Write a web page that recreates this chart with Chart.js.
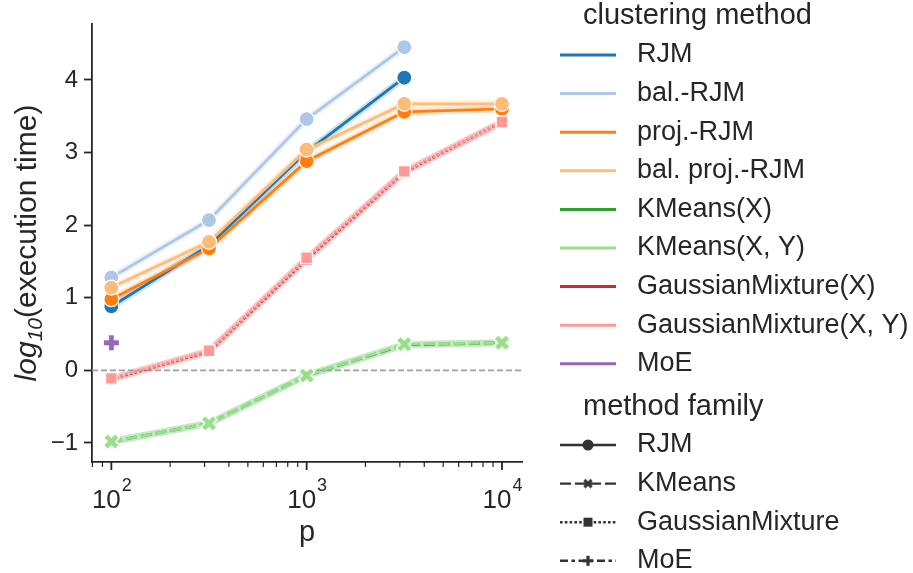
<!DOCTYPE html>
<html>
<head>
<meta charset="utf-8">
<title>execution time</title>
<script src="https://cdn.jsdelivr.net/npm/chart.js@4.4.1/dist/chart.umd.min.js"></script>
<style>
  html, body { margin: 0; padding: 0; background: #fff; }
  #wrap { width: 913px; height: 573px; position: relative; }
</style>
</head>
<body>
<div id="wrap"><canvas id="timeChart" width="913" height="573"></canvas></div>
<script>
// p values (log x axis)
var pValues = [100, 316.23, 1000, 3162.28, 10000];

var methodNames = ['RJM', 'bal.-RJM', 'proj.-RJM', 'bal. proj.-RJM', 'KMeans(X)', 'KMeans(X, Y)',
                   'GaussianMixture(X)', 'GaussianMixture(X, Y)', 'MoE'];
var methodColors = ['#1f77b4', '#aec7e8', '#ff7f0e', '#ffbb78', '#2ca02c', '#98df8a',
                    '#d62728', '#ff9896', '#9467bd'];
var methodFamily = ['RJM', 'RJM', 'RJM', 'RJM', 'KMeans', 'KMeans',
                    'GaussianMixture', 'GaussianMixture', 'MoE'];
var familyNames = ['RJM', 'KMeans', 'GaussianMixture', 'MoE'];

// log10(execution time), one value per p (null = not run)
var rjm        = [0.88, 1.72, 3.01, 4.03, null];
var balRjm     = [1.28, 2.07, 3.46, 4.45, null];
var projRjm    = [0.98, 1.68, 2.88, 3.56, 3.60];
var balProjRjm = [1.14, 1.77, 3.04, 3.67, 3.67];
var kmeansX    = [-0.98, -0.73, -0.07, 0.35, 0.38];
var kmeansXY   = [-0.98, -0.73, -0.07, 0.36, 0.38];
var gmX        = [-0.12, 0.26, 1.53, 2.73, 3.42];
var gmXY       = [-0.11, 0.27, 1.55, 2.74, 3.42];
var moe        = [0.38, null, null, null, null];
var seriesValues = [rjm, balRjm, projRjm, balProjRjm, kmeansX, kmeansXY, gmX, gmXY, moe];

var yTicks = [-1, 0, 1, 2, 3, 4];
var xMajorTicks = [100, 1000, 10000];
var xTickExponents = ['2', '3', '4'];

var textColor = '#262626';
var fontFamily = '"Liberation Sans", Arial, sans-serif';

var familyDash = {
  RJM: [],
  KMeans: [11, 4],
  GaussianMixture: [2.6, 2.2],
  MoE: [8, 3.5, 3.5, 3.5]
};
var familyMarker = { RJM: 'circle', KMeans: 'x', GaussianMixture: 'square', MoE: 'plus' };

// filled x / plus markers with white edge, as small canvases
function makeMarker(kind, color, size, edge) {
  var s = Math.ceil(size + 6);
  var c = document.createElement('canvas');
  c.width = s; c.height = s;
  var g = c.getContext('2d');
  var m = s / 2, h = size / 2;
  var w = size * 0.32;
  function arms(width, col, ext) {
    g.strokeStyle = col;
    g.lineWidth = width;
    g.lineCap = 'butt';
    g.beginPath();
    if (kind === 'x') {
      var a = h * 0.72 + ext;
      g.moveTo(m - a, m - a); g.lineTo(m + a, m + a);
      g.moveTo(m - a, m + a); g.lineTo(m + a, m - a);
    } else {
      var b = h + ext;
      g.moveTo(m - b, m); g.lineTo(m + b, m);
      g.moveTo(m, m - b); g.lineTo(m, m + b);
    }
    g.stroke();
  }
  if (edge) arms(w + 2 * edge, '#ffffff', edge * 0.8);
  arms(w, color, 0);
  return c;
}

function hexAlpha(hex, a) {
  var n = parseInt(hex.slice(1), 16);
  return 'rgba(' + (n >> 16) + ',' + ((n >> 8) & 255) + ',' + (n & 255) + ',' + a + ')';
}

var datasets = methodNames.map(function (name, i) {
  var fam = methodFamily[i];
  var col = methodColors[i];
  var pts = [];
  seriesValues[i].forEach(function (v, j) {
    if (v !== null) pts.push({ x: pValues[j], y: v });
  });
  var mk = familyMarker[fam];
  var style = mk === 'circle' ? 'circle' : mk === 'square' ? 'rect' : makeMarker(mk, col, 15, 1.2);
  return {
    label: name,
    data: pts,
    borderColor: col,
    backgroundColor: col,
    borderWidth: 2.8,
    borderDash: familyDash[fam],
    pointStyle: style,
    pointRadius: mk === 'square' ? 8.2 : 7.5,
    pointBackgroundColor: col,
    pointBorderColor: '#ffffff',
    pointBorderWidth: 1.2,
    tension: 0,
    fill: false,
    order: -i,
    bandColor: hexAlpha(col, 0.22)
  };
});

// soft bands under the lines and the dashed reference line at 0
var bandPlugin = {
  id: 'bands',
  beforeDatasetsDraw: function (chart) {
    var ctx = chart.ctx, area = chart.chartArea;
    ctx.save();
    ctx.beginPath();
    ctx.rect(area.left, area.top, area.right - area.left, area.bottom - area.top);
    ctx.clip();
    chart.data.datasets.forEach(function (ds, i) {
      var meta = chart.getDatasetMeta(i);
      if (meta.data.length < 2) return;
      ctx.strokeStyle = ds.bandColor;
      ctx.lineWidth = 7;
      ctx.lineJoin = 'round';
      ctx.setLineDash([]);
      ctx.beginPath();
      meta.data.forEach(function (pt, j) {
        if (j === 0) ctx.moveTo(pt.x, pt.y); else ctx.lineTo(pt.x, pt.y);
      });
      ctx.stroke();
    });
    var y0 = chart.scales.y.getPixelForValue(0);
    ctx.strokeStyle = '#a0a0a0';
    ctx.lineWidth = 1.6;
    ctx.setLineDash([6, 3]);
    ctx.beginPath();
    ctx.moveTo(area.left, y0);
    ctx.lineTo(area.right, y0);
    ctx.stroke();
    ctx.restore();
  }
};

// log x ticks, axis titles and the two-part legend
var decorPlugin = {
  id: 'decor',
  afterDraw: function (chart) {
    var ctx = chart.ctx, xs = chart.scales.x, area = chart.chartArea;
    ctx.save();
    ctx.strokeStyle = textColor;
    ctx.fillStyle = textColor;

    // minor and major ticks on the p axis
    for (var e = 1; e <= 4; e++) {
      for (var k = 1; k <= 9; k++) {
        var v = k * Math.pow(10, e);
        if (v < xs.min || v > xs.max) continue;
        var px = xs.getPixelForValue(v);
        var major = k === 1;
        ctx.lineWidth = major ? 1.8 : 1.2;
        ctx.beginPath();
        ctx.moveTo(px, area.bottom);
        ctx.lineTo(px, area.bottom + (major ? 8 : 5));
        ctx.stroke();
      }
    }
    xMajorTicks.forEach(function (v, i) {
      var px = xs.getPixelForValue(v);
      ctx.font = '26px ' + fontFamily;
      var wBase = ctx.measureText('10').width;
      ctx.font = '18px ' + fontFamily;
      var wExp = ctx.measureText(xTickExponents[i]).width;
      var x0 = px - (wBase + wExp) / 2;
      ctx.textBaseline = 'alphabetic';
      ctx.textAlign = 'left';
      ctx.font = '26px ' + fontFamily;
      ctx.fillText('10', x0, 508);
      ctx.font = '18px ' + fontFamily;
      ctx.fillText(xTickExponents[i], x0 + wBase + 1, 491);
    });

    // x title
    ctx.font = '29px ' + fontFamily;
    ctx.textAlign = 'center';
    ctx.fillText('p', (area.left + area.right) / 2, 541);

    // y title: log10(execution time), rotated
    ctx.save();
    ctx.translate(36, (area.top + area.bottom) / 2);
    ctx.rotate(-Math.PI / 2);
    var parts = [
      { t: 'log', f: 'italic 30px ' + fontFamily, dy: 0 },
      { t: '10', f: 'italic 21px ' + fontFamily, dy: 6 },
      { t: '(execution time)', f: '30px ' + fontFamily, dy: 0 }
    ];
    var total = 0;
    parts.forEach(function (p) { ctx.font = p.f; p.w = ctx.measureText(p.t).width; total += p.w; });
    var cx = -total / 2;
    ctx.textAlign = 'left';
    parts.forEach(function (p) {
      ctx.font = p.f;
      ctx.fillText(p.t, cx, p.dy);
      cx += p.w;
    });
    ctx.restore();

    // legend
    var lx0 = 560, lx1 = 616, tx = 637, row = 38.6;
    ctx.textAlign = 'left';
    ctx.textBaseline = 'middle';
    ctx.font = '29px ' + fontFamily;
    ctx.fillText('clustering method', 583, 16);
    methodNames.forEach(function (name, i) {
      var y = 55 + i * row;
      ctx.strokeStyle = methodColors[i];
      ctx.lineWidth = 3;
      ctx.setLineDash([]);
      ctx.beginPath();
      ctx.moveTo(lx0, y); ctx.lineTo(lx1, y);
      ctx.stroke();
      ctx.fillStyle = textColor;
      ctx.font = '27px ' + fontFamily;
      ctx.fillText(name, tx, y);
    });
    ctx.font = '29px ' + fontFamily;
    ctx.fillText('method family', 583, 407);
    var famColor = '#333333';
    familyNames.forEach(function (fam, i) {
      var y = 445 + i * row;
      var mx = (lx0 + lx1) / 2;
      ctx.strokeStyle = famColor;
      ctx.lineWidth = 2.4;
      ctx.setLineDash(familyDash[fam]);
      ctx.beginPath();
      ctx.moveTo(lx0, y); ctx.lineTo(lx1, y);
      ctx.stroke();
      ctx.setLineDash([]);
      ctx.fillStyle = famColor;
      var mk = familyMarker[fam];
      if (mk === 'circle') {
        ctx.beginPath(); ctx.arc(mx, y, 5.5, 0, Math.PI * 2); ctx.fill();
      } else if (mk === 'square') {
        ctx.fillRect(mx - 4.5, y - 4.5, 9, 9);
      } else {
        var img = makeMarker(mk, famColor, 10, 0);
        ctx.drawImage(img, mx - img.width / 2, y - img.height / 2);
      }
      ctx.fillStyle = textColor;
      ctx.font = '27px ' + fontFamily;
      ctx.fillText(fam, tx, y);
    });
    ctx.restore();
  }
};

new Chart(document.getElementById('timeChart'), {
  type: 'line',
  data: { datasets: datasets },
  options: {
    responsive: false,
    animation: false,
    layout: { padding: { top: 24, right: 391, bottom: 0, left: 0 } },
    plugins: { legend: { display: false }, tooltip: { enabled: false } },
    scales: {
      x: {
        type: 'logarithmic',
        min: 79.6,
        max: 12664,
        grid: { display: false },
        ticks: { display: false },
        border: { display: true, color: textColor, width: 1.8 },
        afterFit: function (scale) { scale.height = 111; }
      },
      y: {
        type: 'linear',
        min: -1.262,
        max: 4.77,
        afterBuildTicks: function (scale) {
          scale.ticks = yTicks.map(function (v) { return { value: v }; });
        },
        ticks: {
          color: textColor,
          font: { family: fontFamily, size: 24 },
          padding: 6,
          callback: function (v) { return v < 0 ? '\u2212' + Math.abs(v) : String(v); }
        },
        grid: { drawOnChartArea: false, drawTicks: true, tickLength: 8, tickColor: textColor, tickWidth: 1.8 },
        border: { display: true, color: textColor, width: 1.8 },
        afterFit: function (scale) { scale.width = 92; }
      }
    }
  },
  plugins: [bandPlugin, decorPlugin]
});
</script>
</body>
</html>
